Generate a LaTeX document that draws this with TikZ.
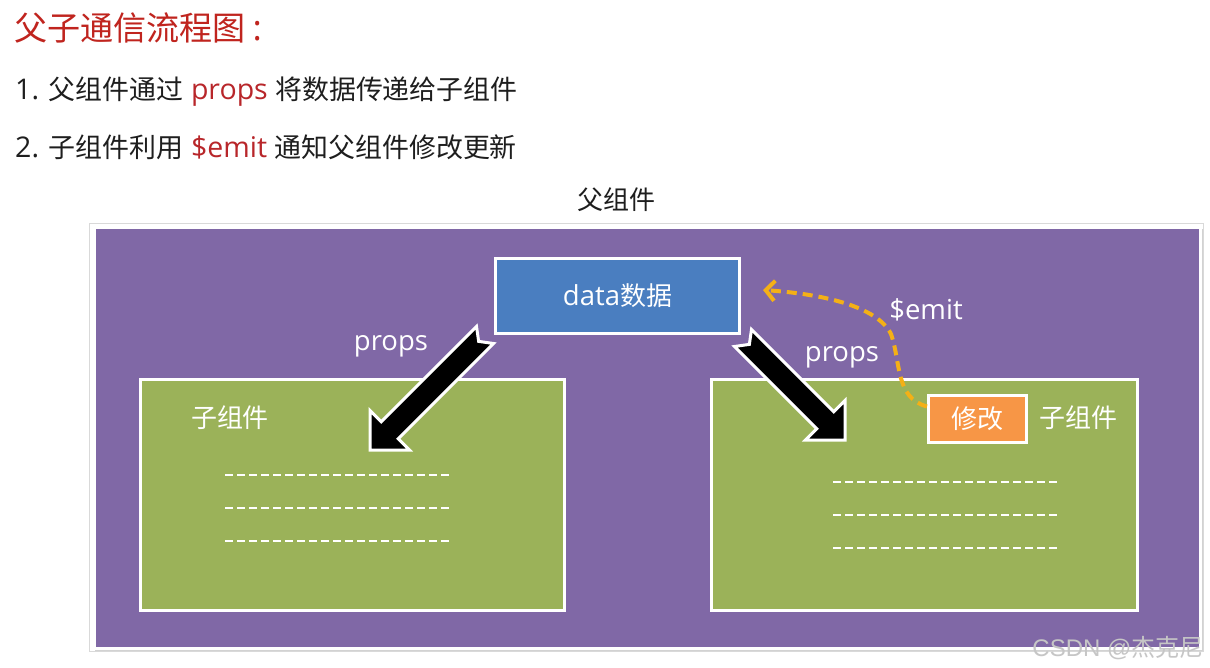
\documentclass[tikz,border=0pt]{standalone}
\usepackage{fontspec}
\setmainfont{Open Sans}
\newfontfamily\cjk[Scale=0.945]{Noto Sans CJK SC}
\newfontfamily\wmfont{Liberation Sans}
\newfontfamily\wmcjk{Noto Sans CJK SC}
\usetikzlibrary{calc,arrows.meta}
\definecolor{titlered}{HTML}{C0241E}
\definecolor{kwred}{HTML}{B8262A}
\definecolor{txtdark}{HTML}{1E1E1E}
\definecolor{parentpurple}{HTML}{8068A6}
\definecolor{datablue}{HTML}{4A7EC0}
\definecolor{childgreen}{HTML}{9BB259}
\definecolor{editorange}{HTML}{F79646}
\definecolor{emitgold}{HTML}{F4B016}
\newcommand\blkarrow[3]{%
  \coordinate (#3c) at ($(#2)!28pt!(#1)$);
  \draw[blockarr] ($(#1)!12pt!90:(#2)$) -- ($(#1)!9pt!(#2)$) -- ($(#1)!12pt!-90:(#2)$)
    -- ($(#3c)!12pt!-90:(#2)$) -- ($(#3c)!28pt!-90:(#2)$) -- (#2)
    -- ($(#3c)!28pt!90:(#2)$) -- ($(#3c)!12pt!90:(#2)$) -- cycle;}
\begin{document}
\begin{tikzpicture}[x=1pt,y=-1pt,
  boxstyle/.style={draw=white, line width=3pt, inner sep=0pt, anchor=north west},
  lbl/.style={text=white, font=\fontsize{27.5}{32}\selectfont, inner sep=0pt},
  dashline/.style={white, line width=1.8pt, dash pattern=on 8pt off 4pt},
  blockarr/.style={fill=black, draw=white, line width=3pt, line join=miter},
  emitline/.style={emitgold, line width=4pt, dash pattern=on 10pt off 6pt,
    -{Straight Barb[length=9pt,width=20pt,line width=4pt]}},
  bodytext/.style={anchor=west, text=txtdark, inner sep=0pt, font=\fontsize{28.5}{33}\selectfont}]
\useasboundingbox (0,0) rectangle (1210,667);
\fill[white] (0,0) rectangle (1210,667);
% title and explanation
\node[anchor=west, text=titlered, inner sep=0pt, font=\fontsize{35}{40}\selectfont] (title) at (14,28) {\cjk 父子通信流程图\hspace{7pt}\normalfont:};
\node[bodytext] (line1) at (15,92) {1. {\cjk 父组件通过} {\color{kwred}props} {\cjk 将数据传递给子组件}};
\node[bodytext] (line2) at (15,147) {2. {\cjk 子组件利用} {\color{kwred}\$emit} {\cjk 通知父组件修改更新}};
\node[text=txtdark, inner sep=0pt, font=\fontsize{27.5}{32}\selectfont] (parentlbl) at (616,200) {\cjk 父组件};
% parent frame
\fill[gray!35] (95,229) rectangle (1203,651);
\draw[gray!30, line width=1pt] (89,223) rectangle (1203,651);
\node[boxstyle, fill=parentpurple, minimum width=1106pt, minimum height=421pt] (parent) at (93,226) {};
% data box
\node[boxstyle, fill=datablue, minimum width=244pt, minimum height=75pt] (data) at (494,257) {};
\node[lbl] (datalbl) at (data.center) {data{\cjk 数据}};
% child boxes
\node[boxstyle, fill=childgreen, minimum width=424pt, minimum height=231pt] (childL) at (139,378) {};
\node[boxstyle, fill=childgreen, minimum width=426pt, minimum height=231pt] (childR) at (710,378) {};
\node[lbl] (childLlbl) at (230,418) {\cjk 子组件};
\node[lbl] (childRlbl) at (1078,418) {\cjk 子组件};
% edit box
\node[boxstyle, fill=editorange, minimum width=98pt, minimum height=47pt] (edit) at (927,394) {};
\node[lbl] (editlbl) at (edit.center) {\cjk 修改};
% dashed content lines
\foreach \yy in {475,508,541} {
  \coordinate (l1\yy) at (225,\yy); \coordinate (l2\yy) at (451,\yy);
  \draw[dashline] (l1\yy) -- (l2\yy);}
\foreach \yy in {482,515,548} {
  \coordinate (r1\yy) at (833,\yy); \coordinate (r2\yy) at (1059,\yy);
  \draw[dashline] (r1\yy) -- (r2\yy);}
% props arrows
\coordinate (latail) at (485,335);
\coordinate (latip) at (370,450);
\coordinate (ratail) at (743,338);
\coordinate (ratip) at (845,440);
\blkarrow{latail}{latip}{la}
\blkarrow{ratail}{ratip}{ra}
\node[lbl] (propsL) at (391,346) {props};
\node[lbl] (propsR) at (842,357) {props};
% emit arrow
\coordinate (emitstart) at ($(edit.north west)!0.25!(edit.south west)$);
\coordinate (emitend) at (763,290);
\draw[emitline] (emitstart) .. controls (895,398) and (901,362) .. (891,334)
  .. controls (877,306) and (822,294) .. (emitend);
\node[lbl] (emitlbl) at (926,310) {\$emit};
% watermark
\node[text=gray!45, inner sep=0pt, font=\fontsize{24}{28}\wmfont] (wm) at (1118,648) {CSDN @{\wmcjk 杰克尼}};
\end{tikzpicture}
\end{document}
